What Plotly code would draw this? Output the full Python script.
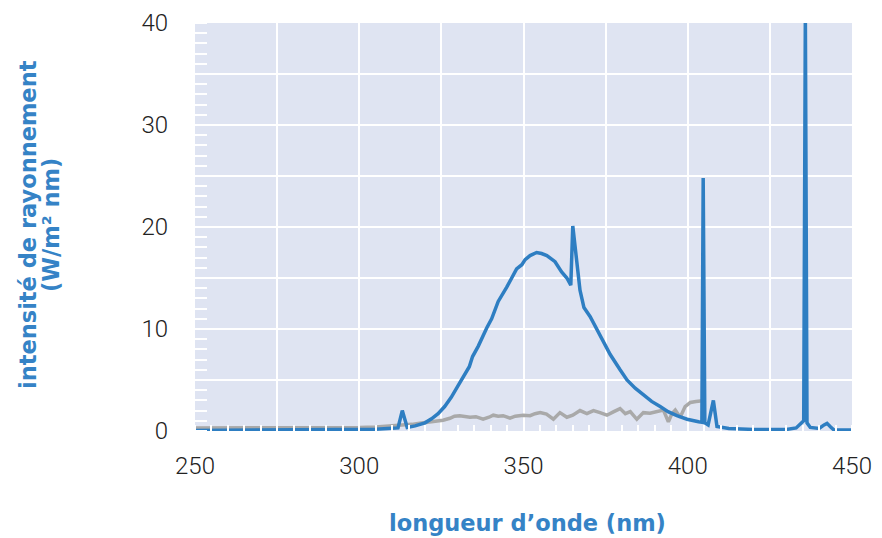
import plotly.graph_objects as go

# Blue series: lamp spectrum (wavelength nm, intensity W/m² nm)
blue_wl = [250, 260, 270, 280, 290, 300, 305, 310, 311.8, 313.1, 314.6, 317, 320, 322, 324, 326, 328,
           330, 331.5, 333.5, 334.5, 336.2, 338.8, 340.3, 342.3, 344.9, 347.9, 349.5, 350.5, 352, 354,
           355.5, 357.1, 359.6, 361.6, 363.2, 364.4, 365.0, 367.2, 368.4, 370.3, 373.3, 376.4, 379.4,
           381.5, 384, 386.5, 389, 391.6, 394, 396.7, 399.8, 403.3, 404.3, 404.7, 405.2, 406.2, 407.8,
           408.9, 412.5, 420, 425, 430, 433, 434.6, 435.3, 435.8, 436.3, 437.3, 440, 441.5, 442.4,
           443.5, 444.5, 450]
blue_val = [0.05, 0.06, 0.07, 0.08, 0.1, 0.12, 0.18, 0.26, 0.3, 2.0, 0.35, 0.5, 0.8, 1.2, 1.7, 2.4, 3.3,
            4.4, 5.2, 6.3, 7.3, 8.3, 10.1, 11.0, 12.7, 14.1, 15.9, 16.3, 16.8, 17.2, 17.5,
            17.4, 17.2, 16.6, 15.6, 15.0, 14.3, 20.1, 13.8, 12.1, 11.2, 9.4, 7.5, 6.0,
            5.0, 4.2, 3.5, 2.9, 2.4, 1.9, 1.5, 1.15, 0.9, 0.85, 24.8, 0.8, 0.6, 3.0,
            0.45, 0.25, 0.15, 0.12, 0.15, 0.3, 0.8, 1.0, 41, 0.8, 0.35, 0.25, 0.6, 0.75,
            0.4, 0.1, 0.1]

# Grey series: reference spectrum
grey_wl = [250, 270, 290, 300, 305, 310, 313, 316, 318.4, 321, 323.5, 325.5, 327.6, 329, 330.6, 332,
           333.7, 335.5, 337.7, 339.5, 340.8, 342.3, 343.8, 345.9, 347.5, 349.9, 352, 353.5, 355.1,
           357, 359.1, 361.1, 363.2, 365, 367.2, 369.3, 371.3, 373.3, 375.4, 377.5, 379.4, 381,
           382.5, 384.5, 386.5, 388.5, 390.6, 392.6, 394.1, 395.2, 396.2, 397.7, 399.2, 400.8,
           402.5, 405.3]
grey_val = [0.3, 0.3, 0.32, 0.35, 0.4, 0.5, 0.55, 0.65, 0.75, 0.85, 0.9, 1.05, 1.25, 1.45, 1.5, 1.4,
            1.35, 1.4, 1.15, 1.35, 1.55, 1.45, 1.5, 1.25, 1.45, 1.55, 1.5, 1.7, 1.8,
            1.65, 1.15, 1.8, 1.35, 1.55, 2.0, 1.7, 2.0, 1.8, 1.55, 1.9, 2.2, 1.7,
            1.9, 1.15, 1.8, 1.75, 1.9, 2.05, 0.9, 1.7, 2.05, 1.35, 2.4, 2.8,
            2.9, 3.0]

x_tickvals = [250, 275, 300, 325, 350, 375, 400, 425, 450]
x_ticktext = ["250", "", "300", "", "350", "", "400", "", "450"]
y_tickvals = [0, 5, 10, 15, 20, 25, 30, 35, 40]
y_ticktext = ["0", "", "10", "", "20", "", "30", "", "40"]
y_title_lines = ["intensité de rayonnement", "(W/m² nm)"]
x_title = "longueur d’onde (nm)"

BLUE = "#2E7EC2"
TITLE_BLUE = "#3583C6"

# the page body has an 8px default margin: size the figure so the plot lands at 195..852 x 23..431
OFF = 8
W, H = 882 - OFF, 538 - OFF
L, R, T, B = 195 - OFF, 30, 23 - OFF, 107
PW, PH = W - L - R, H - T - B


def px(sx):
    return (sx - OFF - L) / PW


def py(sy):
    return (H - B - (sy - OFF)) / PH


fig = go.Figure()
fig.add_trace(go.Scatter(x=grey_wl, y=grey_val, mode="lines",
                         line=dict(color="#A9A9A9", width=3.5), showlegend=False))
fig.add_trace(go.Scatter(x=blue_wl, y=blue_val, mode="lines",
                         line=dict(color=BLUE, width=3.5), showlegend=False))

tickfont = dict(family="Roboto", size=24, color="#222222", weight=300)
titlefont = dict(family="DejaVu Sans", size=22.5, color=TITLE_BLUE, weight="bold")

fig.update_layout(
    width=W, height=H,
    margin=dict(l=L, r=R, t=T, b=B),
    paper_bgcolor="white",
    plot_bgcolor="#DFE4F2",
    xaxis=dict(
        range=[250, 450], tickvals=x_tickvals, ticktext=x_ticktext, automargin=False,
        showgrid=True, gridcolor="white", gridwidth=2, zeroline=False,
        ticks="", showline=False, tickfont=tickfont, ticklabelstandoff=18,
        minor=dict(dtick=5, tick0=250, ticks="inside", ticklen=6, tickcolor="white",
                   tickwidth=2, showgrid=False),
    ),
    yaxis=dict(
        range=[0, 40], tickvals=y_tickvals, ticktext=y_ticktext, automargin=False,
        showgrid=True, gridcolor="white", gridwidth=2, zeroline=False,
        ticks="", showline=False, tickfont=tickfont, ticklabelstandoff=26,
        minor=dict(dtick=1, tick0=0, ticks="inside", ticklen=12, tickcolor="white",
                   tickwidth=2, showgrid=False),
    ),
    annotations=[
        dict(text=y_title_lines[0], textangle=-90,
             xref="paper", yref="paper", x=px(28), y=py(225),
             xanchor="center", yanchor="middle", showarrow=False, font=titlefont),
        dict(text=y_title_lines[1], textangle=-90,
             xref="paper", yref="paper", x=px(51), y=py(225),
             xanchor="center", yanchor="middle", showarrow=False, font=titlefont),
        dict(text=x_title,
             xref="paper", yref="paper", x=px(527), y=py(523),
             xanchor="center", yanchor="middle", showarrow=False, font=titlefont),
    ],
)

fig.write_html("out.html")
